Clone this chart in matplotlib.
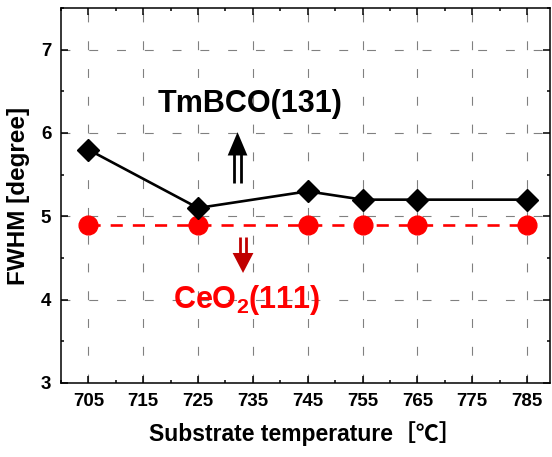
import matplotlib
matplotlib.use("Agg")
import matplotlib.pyplot as plt
from matplotlib.ticker import MultipleLocator, FixedLocator

plt.rcParams["font.family"] = ["Liberation Sans", "Noto Sans CJK KR", "DejaVu Sans"]
plt.rcParams["font.weight"] = "bold"
plt.rcParams["mathtext.fontset"] = "custom"
plt.rcParams["mathtext.rm"] = "Liberation Sans:bold"
plt.rcParams["mathtext.bf"] = "Liberation Sans:bold"
plt.rcParams["mathtext.default"] = "bf"

# data
temp_tmbco = [705, 725, 745, 755, 765, 785]
fwhm_tmbco = [5.8, 5.1, 5.3, 5.2, 5.2, 5.2]
temp_ceo2 = [705, 725, 745, 755, 765, 785]
fwhm_ceo2 = [4.9, 4.9, 4.9, 4.9, 4.9, 4.9]
xticks = [705, 715, 725, 735, 745, 755, 765, 775, 785]
yticks = [3, 4, 5, 6, 7]

fig = plt.figure(figsize=(5.52, 4.57), dpi=100)
ax = fig.add_axes([0.1105, 0.162, 0.886, 0.8205])

ax.plot(temp_tmbco, fwhm_tmbco, color="black", lw=1.9, marker="D", ms=11.5, zorder=4)
ax.plot(temp_ceo2, fwhm_ceo2, color="#ff0000", lw=1.9, ls=(0, (4.6, 3.8)),
        marker="o", ms=13.5, zorder=3)

ax.set_xlim(700, 789.2)
ax.set_ylim(3, 7.5)
ax.xaxis.set_major_locator(FixedLocator(xticks))
ax.xaxis.set_minor_locator(MultipleLocator(10))
ax.yaxis.set_major_locator(FixedLocator(yticks))
ax.yaxis.set_minor_locator(MultipleLocator(0.5))
ax.tick_params(which="both", direction="in", top=True, right=True, width=1.1)
ax.tick_params(which="major", length=5, labelsize=13.5, pad=7)
ax.tick_params(which="minor", length=2.5)
for lab in ax.get_xticklabels() + ax.get_yticklabels():
    lab.set_fontweight("bold")
for s in ax.spines.values():
    s.set_linewidth(1.1)

ax.grid(True, which="major", color="#808080", lw=0.8, ls=(0, (8, 17)))
ax.set_axisbelow(True)

ax.set_xlabel("Substrate temperature［℃］", fontsize=16.5, fontweight="bold", labelpad=8)
ax.set_ylabel("FWHM [degree]", fontsize=17.5, fontweight="bold", labelpad=8)

# labels
ax.text(734.5, 6.35, "TmBCO(131)", fontsize=22, fontweight="bold", color="black",
        ha="center", va="center")
ax.text(733.8, 4.0, "CeO$_2$(111)", fontsize=22, fontweight="bold", color="#ff0000",
        ha="center", va="center")

# double-shaft arrows
ux, dx = 732.2, 733.2
ax.plot([ux - 0.7, ux - 0.7], [5.40, 5.75], color="black", lw=2.0, solid_capstyle="butt")
ax.plot([ux + 0.7, ux + 0.7], [5.40, 5.75], color="black", lw=2.0, solid_capstyle="butt")
ax.fill([ux - 1.8, ux + 1.8, ux], [5.73, 5.73, 6.01], color="black", lw=0)

ax.plot([dx - 0.6, dx - 0.6], [4.75, 4.54], color="#c00000", lw=2.0, solid_capstyle="butt")
ax.plot([dx + 0.6, dx + 0.6], [4.75, 4.54], color="#c00000", lw=2.0, solid_capstyle="butt")
ax.fill([dx - 1.9, dx + 1.9, dx], [4.56, 4.56, 4.32], color="#c00000", lw=0)

fig.savefig("out.png", dpi=100)
